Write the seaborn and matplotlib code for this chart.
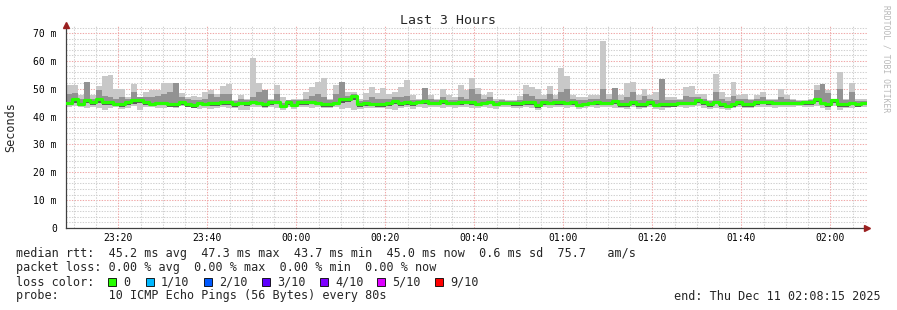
import numpy as np
import pandas as pd
import matplotlib
matplotlib.use("Agg")
import matplotlib.pyplot as plt
from matplotlib.patches import Rectangle
import seaborn as sns

# ---------------- data ----------------
step_seconds = 80  # probe interval
median_ms = [
    45.0, 46.4, 44.6, 46.0, 45.2, 46.4, 45.2, 45.2, 44.5, 44.4, 45.3, 45.8, 46.0, 45.4, 44.5, 45.0, 45.0, 44.5, 44.5, 45.2, 44.4, 44.2, 45.0,
    44.6, 44.8, 44.8, 45.2, 45.2, 44.4, 45.0, 44.8, 45.4, 45.0, 44.6, 45.2, 45.4, 43.7, 45.2, 44.2, 45.2, 45.2, 45.4, 45.0, 44.4, 44.4,
    45.0, 46.4, 46.4, 47.3, 44.4, 44.8, 44.6, 44.4, 44.4, 44.8, 45.6, 44.8, 45.2, 44.8, 45.4, 45.6, 45.0, 45.0, 45.6, 45.0, 45.0, 45.2, 45.4,
    45.2, 44.6, 45.0, 45.4, 44.6, 45.0, 44.8, 44.8, 44.8, 45.2, 45.2, 44.0, 45.2, 45.0, 45.2, 45.2, 45.0, 45.2, 44.2, 44.6, 45.0, 45.2, 45.0,
    45.0, 45.6, 44.6, 44.4, 45.2, 44.4, 44.5, 45.2, 44.2, 44.6, 44.6, 44.6, 45.0, 45.0, 45.0, 45.8, 45.2, 44.4, 45.4, 44.4, 43.8, 44.6, 45.2,
    44.6, 44.6, 45.2, 45.4, 45.2, 45.0, 45.0, 45.0, 45.0, 45.0, 45.2, 45.2, 46.4, 45.0, 44.6, 45.8, 44.6, 44.6, 45.0, 44.6, 45.0,
]
max_ms = [
    51.4, 51.4, 47.6, 52.6, 47.6, 51.0, 54.6, 54.9, 49.9, 49.9, 47.0, 51.8, 47.0, 48.9, 49.4, 49.4, 52.0, 52.0, 52.0, 48.4, 47.0, 47.4, 47.0,
    48.8, 49.6, 48.0, 51.0, 51.7, 46.0, 47.6, 46.4, 61.0, 52.0, 49.6, 46.4, 51.2, 47.0, 45.8, 46.4, 46.4, 49.0, 50.7, 52.6, 53.8, 46.4,
    51.2, 52.4, 48.8, 48.8, 46.4, 48.5, 50.6, 48.5, 50.2, 48.2, 48.8, 50.6, 53.0, 47.6, 46.4, 50.2, 47.6, 46.4, 49.8, 47.9, 47.0, 51.4, 49.6,
    53.8, 50.2, 47.6, 48.8, 46.4, 46.4, 46.0, 46.0, 47.4, 51.2, 50.8, 50.0, 47.9, 51.0, 47.6, 57.4, 54.6, 47.6, 47.0, 47.0, 47.6, 47.9, 67.0,
    48.2, 50.2, 47.6, 52.2, 52.4, 47.6, 50.0, 47.6, 48.8, 53.6, 47.0, 47.0, 46.4, 50.6, 51.0, 48.2, 48.2, 45.8, 55.4, 48.8, 47.0, 52.4, 47.6,
    48.2, 46.4, 47.9, 48.8, 46.4, 46.4, 50.0, 47.6, 46.4, 45.8, 45.8, 46.2, 51.4, 51.8, 49.4, 46.2, 56.0, 46.2, 52.0, 46.2, 46.2,
]
min_ms = [
    43.5, 43.8, 43.5, 43.2, 43.5, 43.0, 42.5, 43.0, 43.5, 42.8, 43.2, 43.8, 42.5, 43.5, 43.5, 43.2, 43.0, 43.5, 43.2, 43.8, 43.5, 43.0, 42.8,
    43.0, 42.8, 43.0, 43.5, 43.0, 43.2, 42.5, 42.5, 43.5, 43.5, 43.0, 43.5, 43.0, 42.5, 43.5, 42.8, 43.5, 43.5, 43.0, 43.5, 43.0, 43.2,
    43.5, 42.8, 43.0, 42.5, 42.8, 43.0, 43.2, 43.0, 43.2, 42.8, 42.5, 43.2, 43.5, 42.8, 43.5, 43.0, 43.5, 43.5, 43.0, 43.5, 43.2, 43.5, 43.5,
    43.0, 43.2, 43.5, 43.0, 42.8, 43.5, 43.5, 43.0, 43.2, 43.5, 43.0, 42.5, 43.5, 43.2, 43.5, 43.5, 43.0, 43.5, 42.8, 43.0, 43.5, 43.0, 43.5,
    43.5, 43.0, 43.2, 42.8, 43.5, 42.8, 43.0, 43.5, 42.8, 42.5, 43.2, 43.5, 43.5, 43.0, 43.5, 43.8, 43.2, 42.8, 43.0, 42.8, 42.5, 43.0, 43.5,
    43.0, 43.2, 43.5, 43.5, 43.5, 43.2, 43.5, 43.5, 43.5, 43.8, 43.5, 43.5, 43.8, 43.0, 42.5, 43.8, 42.5, 43.0, 43.2, 43.5, 43.5,
]
upper_mid_ms = [
    48.0, 48.5, 46.5, 52.6, 46.5, 49.5, 47.5, 47.0, 46.5, 47.0, 46.5, 49.0, 47.0, 47.0, 47.0, 47.5, 48.0, 49.0, 52.0, 47.0, 46.5, 46.0, 46.0,
    46.5, 48.0, 47.0, 48.0, 48.0, 45.5, 46.5, 46.0, 47.0, 49.0, 49.6, 46.0, 48.0, 45.0, 45.8, 46.0, 46.0, 46.5, 47.5, 48.0, 47.0, 45.8,
    48.0, 52.4, 47.5, 48.0, 45.5, 46.0, 47.0, 46.5, 46.5, 46.5, 47.0, 47.0, 47.5, 46.0, 46.0, 50.2, 46.5, 45.8, 47.0, 46.0, 46.0, 47.0, 46.5,
    50.0, 48.0, 46.5, 47.0, 45.5, 46.0, 45.5, 45.5, 46.0, 48.0, 47.5, 46.5, 46.5, 48.0, 46.5, 49.0, 50.0, 46.5, 46.0, 45.8, 46.5, 46.5, 50.0,
    46.5, 50.2, 46.0, 47.0, 49.0, 46.0, 47.5, 46.5, 46.0, 53.6, 46.0, 46.0, 45.8, 47.5, 47.0, 47.0, 46.5, 45.5, 49.0, 46.5, 45.5, 47.5, 46.5,
    46.5, 45.8, 46.5, 47.0, 45.8, 45.8, 47.0, 46.2, 45.8, 45.5, 45.5, 45.8, 49.5, 51.8, 48.5, 45.8, 50.0, 45.8, 49.0, 45.5, 45.5,
]
lower_mid_ms = [
    44.0, 45.0, 43.8, 44.8, 44.0, 45.0, 44.0, 44.2, 43.8, 43.5, 44.2, 44.5, 44.8, 44.2, 43.8, 44.0, 44.0, 43.6, 43.5, 44.2, 43.5, 43.2, 44.0,
    43.8, 43.8, 43.8, 44.2, 44.0, 43.6, 44.0, 43.8, 44.5, 44.2, 43.6, 44.2, 44.4, 43.0, 44.2, 43.4, 44.2, 44.2, 44.4, 44.0, 43.6, 43.6,
    44.0, 45.0, 45.2, 46.0, 43.6, 43.8, 43.8, 43.6, 43.5, 43.8, 44.6, 43.8, 44.2, 43.8, 44.4, 44.6, 44.0, 44.0, 44.6, 44.0, 44.0, 44.2, 44.4,
    44.2, 43.8, 44.0, 44.4, 43.8, 44.0, 44.0, 43.8, 43.8, 44.2, 44.2, 43.2, 44.2, 44.0, 44.2, 44.2, 44.0, 44.2, 43.4, 43.8, 44.0, 44.2, 44.0,
    44.0, 44.6, 43.6, 43.5, 44.2, 43.5, 43.6, 44.2, 43.4, 43.6, 43.6, 43.6, 44.0, 44.0, 44.0, 44.8, 44.2, 43.5, 44.4, 43.5, 43.0, 43.6, 44.2,
    43.6, 43.6, 44.2, 44.4, 44.2, 44.0, 44.0, 44.0, 44.0, 44.0, 44.2, 44.2, 45.2, 44.0, 43.6, 44.8, 43.6, 43.6, 44.0, 43.6, 44.0,
]

x_tick_seconds = [705, 1905, 3105, 4305, 5505, 6705, 7905, 9105, 10305]   # from 23:08:15
x_tick_labels = ["23:20", "23:40", "00:00", "00:20", "00:40", "01:00", "01:20", "01:40", "02:00"]
y_tick_values = [0, 10, 20, 30, 40, 50, 60, 70]
y_tick_labels = ["0", "10 m", "20 m", "30 m", "40 m", "50 m", "60 m", "70 m"]

loss_labels = ["0", "1/10", "2/10", "3/10", "4/10", "5/10", "9/10"]
loss_colors = ["#26ff00", "#00b8ff", "#0059ff", "#5e00ff", "#7e00ff", "#dd00ff", "#ff0000"]

title = "Last 3 Hours"
stat_line1 = "median rtt:  45.2 ms avg  47.3 ms max  43.7 ms min  45.0 ms now  0.6 ms sd  75.7   am/s"
stat_line2 = "packet loss: 0.00 % avg  0.00 % max  0.00 % min  0.00 % now"
stat_line3 = "loss color:"
stat_line4 = "probe:       10 ICMP Echo Pings (56 Bytes) every 80s"
end_text = "end: Thu Dec 11 02:08:15 2025"
side_text = "RRDTOOL / TOBI OETIKER"

# ---------------- figure ----------------
sns.set_theme(style="white")
plt.rcParams["font.family"] = ["DejaVu Sans Mono", "DejaVu Sans"]

W, H = 897, 310
fig = plt.figure(figsize=(W / 100, H / 100), dpi=100)
fig.patch.set_facecolor("white")
L, R, T, B = 66, 867, 25, 228
ax = fig.add_axes([L / W, (H - B) / H, (R - L) / W, (B - T) / H])
ax.set_facecolor("white")

n = len(median_ms)
t_edges = np.arange(n + 1) * step_seconds
def pad(a):
    return np.append(np.asarray(a, float), a[-1])

df = pd.DataFrame({
    "t": t_edges,
    "median": pad(median_ms),
    "lo": pad(min_ms),
    "hi": pad(max_ms),
    "lo2": pad(lower_mid_ms),
    "hi2": pad(upper_mid_ms),
})

# grid
minor_dash = (0, (1.3, 1.3))
for yv in np.arange(2, 73, 2):
    if yv % 10 == 0:
        ax.axhline(yv, color="#f0a8a8", lw=0.75, ls=minor_dash, zorder=0)
    else:
        ax.axhline(yv, color="#d0d0d0", lw=0.75, ls=minor_dash, zorder=0)
for xv in np.arange(105, 10800, 300):
    if (xv - 705) % 1200 == 0:
        ax.axvline(xv, color="#f0a8a8", lw=0.75, ls=minor_dash, zorder=0)
    else:
        ax.axvline(xv, color="#d0d0d0", lw=0.75, ls=minor_dash, zorder=0)

# smoke
ax.fill_between(df["t"], df["lo"], df["hi"], step="post", color="#c8c8c8", lw=0, zorder=1)
ax.fill_between(df["t"], df["lo2"], df["hi2"], step="post", color="#929292", lw=0, zorder=2)
ax.fill_between(df["t"], df["lo2"], df["median"], step="post", color="#5a5a5a", lw=0, zorder=2)

# median
sns.lineplot(data=df, x="t", y="median", ax=ax, drawstyle="steps-post",
             color="#26ff00", lw=2.3, zorder=4)

ax.set_xlim(0, n * step_seconds)
ax.set_ylim(0, 72.9)
ax.set_xticks(x_tick_seconds)
ax.set_xticklabels(x_tick_labels, fontsize=7)
ax.set_yticks(y_tick_values)
ax.set_yticklabels(y_tick_labels, fontsize=7)
ax.set_xticks(np.arange(105, 10800, 300), minor=True)
ax.set_yticks(np.arange(0, 73, 2), minor=True)
ax.tick_params(axis="both", which="both", direction="inout", colors="#404040", labelcolor="black")
ax.tick_params(axis="both", which="major", length=3, width=0.7)
ax.tick_params(axis="x", which="major", pad=2)
ax.tick_params(axis="y", which="major", pad=5)
ax.tick_params(axis="both", which="minor", length=2, width=0.7)
ax.set_xlabel("")
ax.set_ylabel("")
for s in ["top", "right"]:
    ax.spines[s].set_visible(False)
for s in ["left", "bottom"]:
    ax.spines[s].set_color("#404040")
    ax.spines[s].set_linewidth(0.9)
ax.grid(False)

# axis arrows
ax.plot([1.0], [0], marker=">", ms=4, color="#9a2020", transform=ax.transAxes, clip_on=False, zorder=6)
ax.plot([0], [1.0], marker="^", ms=4, color="#9a2020", transform=ax.transAxes, clip_on=False, zorder=6)

def fx(px):
    return px / W
def fy(py):
    return 1 - py / H

fig.text(fx(448), fy(20), title, ha="center", va="center", fontsize=9.5)
fig.text(fx(11), fy(127), "Seconds", rotation=90, ha="center", va="center", fontsize=8.5)
fig.text(fx(886), fy(59), side_text, rotation=270, ha="center", va="center", fontsize=5.8, color="#b8b8b8")

fs = 8.5
fig.text(fx(16), fy(254), stat_line1, ha="left", va="center", fontsize=fs)
fig.text(fx(16), fy(268), stat_line2, ha="left", va="center", fontsize=fs)
fig.text(fx(16), fy(282), stat_line3, ha="left", va="center", fontsize=fs)
fig.text(fx(16), fy(296), stat_line4, ha="left", va="center", fontsize=fs)
fig.text(fx(881), fy(296), end_text, ha="right", va="center", fontsize=fs)

sq_x = [108, 146, 204, 262, 320, 377, 435]
for px, lab, col in zip(sq_x, loss_labels, loss_colors):
    fig.patches.append(Rectangle((fx(px), fy(286)), 8 / W, 8 / H, transform=fig.transFigure,
                                 facecolor=col, edgecolor="black", lw=0.6))
    fig.text(fx(px + 15), fy(282), lab, ha="left", va="center", fontsize=fs)

fig.savefig("out.png", dpi=100)
